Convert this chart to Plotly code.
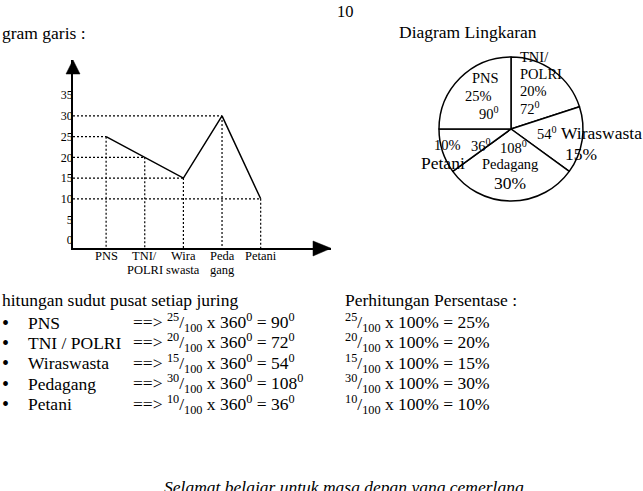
import plotly.graph_objects as go

# ---------------- data ----------------
categories = ["PNS", "TNI/POLRI", "Wiraswasta", "Pedagang", "Petani"]
values = [25, 20, 15, 30, 10]          # persen
angles = [90, 72, 54, 108, 36]         # derajat
x_labels_top = ["PNS", "TNI/", "Wira", "Peda", "Petani"]
x_labels_bottom = ["", "POLRI", "swasta", "gang", ""]
bullet_labels = ["PNS", "TNI / POLRI", "Wiraswasta", "Pedagang", "Petani"]
y_ticks = [0, 5, 10, 15, 20, 25, 30, 35]
pie_order = [1, 2, 3, 4, 0]            # clockwise from 12 o'clock: TNI first

W, H = 643, 491
FONT = "Times New Roman, Liberation Serif, Times, serif"


def px(x):
    return x / W


def py(y):
    return 1 - y / H


X_MIN, X_MAX = 0.143, 6.82
Y_MIN, Y_MAX = -1.95, 43.5
xs = list(range(1, len(values) + 1))

fig = go.Figure()

# dotted guide lines
hx, hy, vx, vy = [], [], [], []
for x, v in zip(xs, values):
    hx += [X_MIN, x, None]
    hy += [v, v, None]
    vx += [x, x, None]
    vy += [v, Y_MIN, None]
dot = dict(color="black", width=1.2, dash="2px,2px")
fig.add_trace(go.Scatter(x=hx, y=hy, mode="lines", line=dot, hoverinfo="skip"))
fig.add_trace(go.Scatter(x=vx, y=vy, mode="lines", line=dot, hoverinfo="skip"))

# main line
fig.add_trace(go.Scatter(x=xs, y=values, mode="lines",
                         line=dict(color="black", width=1.5), hoverinfo="skip"))

# pie
fig.add_trace(go.Pie(
    labels=[categories[i] for i in pie_order],
    values=[values[i] for i in pie_order],
    sort=False, direction="clockwise", rotation=0,
    textinfo="none", hoverinfo="skip",
    marker=dict(colors=["white"] * 5, line=dict(color="black", width=1.5)),
    domain=dict(x=[px(439), px(583)], y=[py(201), py(57)]),
))

annotations = []


def ann(text, x, y, size=17.5, xanchor="center", italic=False):
    annotations.append(dict(
        text=text, x=px(x), y=py(y), xref="paper", yref="paper",
        xanchor=xanchor, yanchor="middle", showarrow=False,
        font=dict(family=FONT, size=size, color="black",
                  style="italic" if italic else "normal"),
    ))


# category labels under the line chart (two rows)
for x, top, bot in zip(xs, x_labels_top, x_labels_bottom):
    for txt, yy in ((top, 256), (bot, 269.5)):
        if txt:
            annotations.append(dict(
                text=txt, x=x, y=py(yy), xref="x", yref="paper",
                xanchor="center", yanchor="middle", showarrow=False,
                font=dict(family=FONT, size=12.5, color="black")))

# page header texts
ann("10", 345, 11, 16.5)
ann("gram garis :", 0, 33, 17.5, "left")
ann("Diagram Lingkaran", 397, 32, 17.5, "left")

# pie labels
S = 14.5
L = 17.5
ann("PNS", 485, 78, S)
ann(f"{values[0]}%", 478, 96, S)
ann(f"{angles[0]}<sup>0</sup>", 489, 113, S)
ann("TNI/", 518, 57, S, "left")
ann("POLRI", 518, 74, S, "left")
ann(f"{values[1]}%", 518, 91, S, "left")
ann(f"{angles[1]}<sup>0</sup>", 518, 108, S, "left")
ann(f"{angles[2]}<sup>0</sup>", 535, 133, S, "left")
ann("Wiraswasta", 559, 133, L, "left")
ann(f"{values[2]}%", 563, 154, L, "left")
ann(f"{values[4]}%", 432, 145, S, "left")
ann(f"{angles[4]}<sup>0</sup>", 469, 145, S, "left")
ann("Petani", 419, 163, L, "left")
ann(f"{angles[3]}<sup>0</sup>", 498, 147, S, "left")
ann("Pedagang", 510, 164, S)
ann(f"{values[3]}%", 510, 183, L)

# calculations
ann("hitungan sudut pusat setiap juring", 0, 300, 17.5, "left")
ann("Perhitungan Persentase :", 343, 300, 17.5, "left")
for i, (lab, v, a) in enumerate(zip(bullet_labels, values, angles)):
    y = 322.5 + 20.4 * i
    ann("•", 5, y, 20)
    ann(lab, 26, y, 17.5, "left")
    ann(f"==&gt; <sup>{v}</sup>/<sub>100</sub> x 360<sup>0</sup> = {a}<sup>0</sup>",
        131, y, 17.5, "left")
    ann(f"<sup>{v}</sup>/<sub>100</sub> x 100% = {v}%", 343, y, 17.5, "left")

ann("Selamat belajar untuk masa depan yang cemerlang", 344, 487, 17.5, italic=True)

# arrowheads (decoration)
shapes = [
    dict(type="path", xref="paper", yref="paper",
         path=f"M {px(73)} {py(60)} L {px(66)} {py(74)} L {px(80)} {py(74)} Z",
         fillcolor="black", line=dict(color="black", width=0.5)),
    dict(type="path", xref="paper", yref="paper",
         path=f"M {px(331)} {py(248.3)} L {px(313)} {py(241)} L {px(313)} {py(256)} Z",
         fillcolor="black", line=dict(color="black", width=0.5)),
]

fig.update_layout(
    width=W, height=H, margin=dict(l=0, r=0, t=0, b=0),
    paper_bgcolor="white", plot_bgcolor="white", showlegend=False,
    annotations=annotations, shapes=shapes,
    font=dict(family=FONT, color="black"),
    xaxis=dict(domain=[px(73), px(331)], range=[X_MIN, X_MAX],
               showgrid=False, zeroline=False, showline=True,
               linecolor="black", linewidth=1.5,
               tickvals=xs, showticklabels=False, ticks=""),
    yaxis=dict(domain=[py(248.3), py(60)], range=[Y_MIN, Y_MAX],
               showgrid=False, zeroline=False, showline=True,
               linecolor="black", linewidth=1.5,
               tickvals=y_ticks, ticks="", ticklabelstandoff=-4,
               tickfont=dict(family=FONT, size=12, color="black")),
)

fig.write_html("out.html")
